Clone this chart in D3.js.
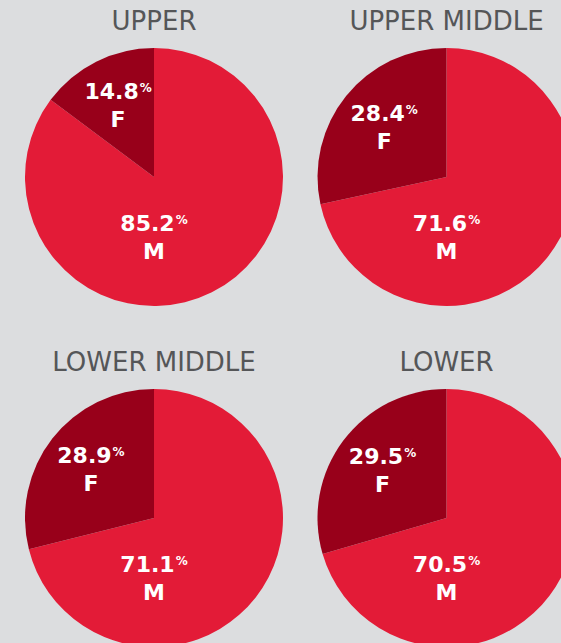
<!DOCTYPE html>
<html>
<head>
<meta charset="utf-8">
<script src="https://cdn.jsdelivr.net/npm/d3@7"></script>
<style>
  body { margin: 0; background: #dcdddf; overflow: hidden; }
  svg { display: block; }
  text { font-family: 'DejaVu Sans', Verdana, sans-serif; }
</style>
</head>
<body>
<div id="chart"></div>
<script>
var groups = ['UPPER', 'UPPER MIDDLE', 'LOWER MIDDLE', 'LOWER'];
var sexes = ['M', 'F'];
var male = [85.2, 71.6, 71.1, 70.5];
var female = [14.8, 28.4, 28.9, 29.5];

var width = 561;
var height = 643;
var radius = 129;
var colors = { M: '#e31b37', F: '#98001a' };

var svg = d3.select('#chart').append('svg')
    .attr('width', width)
    .attr('height', height);

// 2x2 grid of pie centres
var col = d3.scalePoint().domain([0, 1]).range([154, 446.5]);
var row = d3.scalePoint().domain([0, 1]).range([177, 518]);

var pie = d3.pie().sort(null).value(function(d) { return d.value; });
var arc = d3.arc().innerRadius(0).outerRadius(radius);
var labelArc = d3.arc().innerRadius(80).outerRadius(80);

var cells = svg.selectAll('.cell')
    .data(groups)
  .enter().append('g')
    .attr('class', 'cell')
    .attr('transform', function(d, i) {
        return 'translate(' + col(i % 2) + ',' + row(Math.floor(i / 2)) + ')';
    });

cells.append('text')
    .attr('class', 'title')
    .attr('x', 0)
    .attr('y', -radius - 18)
    .attr('text-anchor', 'middle')
    .attr('font-size', 26)
    .attr('fill', '#555658')
    .text(function(d) { return d; });

cells.each(function(g, i) {
    var slices = pie([
        { sex: sexes[0], value: male[i] },
        { sex: sexes[1], value: female[i] }
    ]);
    var cell = d3.select(this);

    cell.selectAll('path')
        .data(slices)
      .enter().append('path')
        .attr('d', arc)
        .attr('fill', function(d) { return colors[d.data.sex]; });

    var labels = cell.selectAll('.label')
        .data(slices)
      .enter().append('g')
        .attr('class', 'label')
        .attr('transform', function(d) {
            // male label sits straight below the centre, female at the slice centroid
            var p = d.data.sex === 'M' ? [0, 60] : labelArc.centroid(d);
            return 'translate(' + p[0] + ',' + p[1] + ')';
        });

    var num = labels.append('text')
        .attr('text-anchor', 'middle')
        .attr('y', -6)
        .attr('font-weight', 'bold')
        .attr('font-size', 22)
        .attr('fill', '#fff');
    num.append('tspan')
        .text(function(d) { return d.data.value.toFixed(1); });
    num.append('tspan')
        .attr('font-size', 12)
        .attr('dy', -7)
        .attr('dx', 1)
        .text('%');

    labels.append('text')
        .attr('text-anchor', 'middle')
        .attr('y', 22)
        .attr('font-weight', 'bold')
        .attr('font-size', 22)
        .attr('fill', '#fff')
        .text(function(d) { return d.data.sex; });
});
</script>
</body>
</html>
